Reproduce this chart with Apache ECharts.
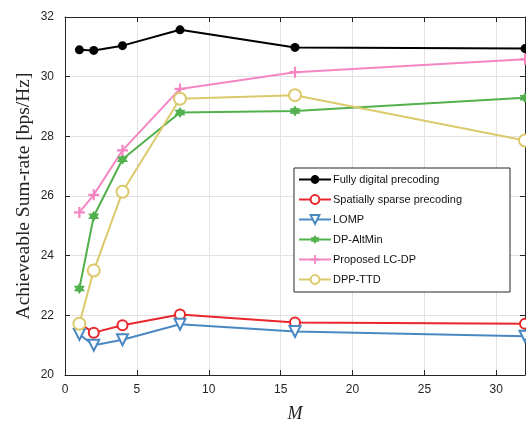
<!DOCTYPE html>
<html>
<head>
<meta charset="utf-8">
<script src="https://cdn.jsdelivr.net/npm/echarts@6/dist/echarts.min.js"></script>
<style>
html, body { margin: 0; padding: 0; background: #fff; }
#chart { width: 526px; height: 425px; }
</style>
</head>
<body>
<div id="chart"></div>
<script>
// number of RF chains M
var mValues = [1, 2, 4, 8, 16, 32];
var fullyDigital = [30.9, 30.88, 31.04, 31.57, 30.98, 30.94];
var sparsePrecoding = [21.72, 21.42, 21.67, 22.03, 21.76, 21.72];
var lomp = [21.36, 21.0, 21.18, 21.7, 21.46, 21.3];
var dpAltMin = [22.9, 25.32, 27.23, 28.8, 28.85, 29.29];
var lcdp = [25.45, 26.04, 27.53, 29.59, 30.15, 30.58];
var dppTtd = [21.72, 23.5, 26.14, 29.26, 29.38, 27.86];
var xTicks = { min: 0, max: 32, interval: 5 };
var yTicks = { min: 20, max: 32, interval: 2 };

function pairs(vals) {
	return mValues.map(function(m, i) {
		return [m, vals[i]];
	});
}

var axisColor = '#262626';
var starPath = 'path://M0,-10L8.66,5L-8.66,5Z M0,10L-8.66,-5L8.66,-5Z';
var plusPath = 'path://M-2,-10h4v8h8v4h-8v8h-4v-8h-8v-4h8z';

function lineSeries(name, vals, color, symbol, size, extra) {
	var s = {
		name: name,
		type: 'line',
		data: pairs(vals),
		symbol: symbol,
		symbolSize: size,
		showAllSymbol: true,
		lineStyle: { color: color, width: 2 },
		itemStyle: { color: color },
		emphasis: { disabled: true },
		z: 3
	};
	for (var k in extra) s[k] = extra[k];
	return s;
}

var option = {
	animation: false,
	backgroundColor: '#fff',
	grid: { left: 65, right: 1, top: 17, bottom: 50, containLabel: false, outerBoundsMode: 'none' },
	legend: {
		orient: 'vertical',
		left: 294,
		top: 168,
		padding: [6, 48, 7, 4],
		itemGap: 9,
		itemWidth: 32,
		itemHeight: 11,
		backgroundColor: '#fff',
		borderColor: '#262626',
		borderWidth: 1,
		borderRadius: 0,
		textStyle: { fontFamily: 'Liberation Sans', fontSize: 11, color: '#111', padding: [0, 0, 0, -3] },
		data: ['Fully digital precoding', 'Spatially sparse precoding', 'LOMP', 'DP-AltMin', 'Proposed LC-DP', 'DPP-TTD']
	},
	xAxis: [{
		type: 'value',
		min: xTicks.min,
		max: xTicks.max,
		interval: xTicks.interval,
		name: 'M',
		nameLocation: 'middle',
		nameGap: 30,
		nameMoveOverlap: false,
		nameTextStyle: { fontFamily: 'Liberation Serif', fontStyle: 'italic', fontSize: 18, color: '#222' },
		axisLine: { show: true, lineStyle: { color: axisColor, width: 1 } },
		axisTick: { show: true, inside: true, length: 5, lineStyle: { color: axisColor } },
		axisLabel: { showMaxLabel: false, margin: 9, fontFamily: 'Liberation Sans', fontSize: 12, color: axisColor },
		splitLine: { show: true, lineStyle: { color: '#e3e3e3', width: 1 } }
	}, {
		type: 'value',
		position: 'top',
		min: xTicks.min,
		max: xTicks.max,
		interval: xTicks.interval,
		axisLine: { show: true, onZero: false, lineStyle: { color: axisColor, width: 1 } },
		axisTick: { show: true, inside: true, length: 5, lineStyle: { color: axisColor } },
		axisLabel: { show: false },
		splitLine: { show: false }
	}],
	yAxis: [{
		type: 'value',
		min: yTicks.min,
		max: yTicks.max,
		interval: yTicks.interval,
		name: 'Achieveable Sum-rate [bps/Hz]',
		nameLocation: 'middle',
		nameGap: 31,
		nameMoveOverlap: false,
		nameTextStyle: { fontFamily: 'Liberation Serif', fontSize: 19.5, color: '#222' },
		axisLine: { show: true, lineStyle: { color: axisColor, width: 1 } },
		axisTick: { show: true, inside: true, length: 5, lineStyle: { color: axisColor } },
		axisLabel: { margin: 11, fontFamily: 'Liberation Sans', fontSize: 12, color: axisColor },
		splitLine: { show: true, lineStyle: { color: '#e3e3e3', width: 1 } }
	}, {
		type: 'value',
		position: 'right',
		min: yTicks.min,
		max: yTicks.max,
		interval: yTicks.interval,
		axisLine: { show: true, onZero: false, lineStyle: { color: axisColor, width: 1 } },
		axisTick: { show: true, inside: true, length: 5, lineStyle: { color: axisColor } },
		axisLabel: { show: false },
		splitLine: { show: false }
	}],
	series: [
		lineSeries('Fully digital precoding', fullyDigital, '#000000', 'circle', 9, {}),
		lineSeries('Spatially sparse precoding', sparsePrecoding, '#e8262b', 'emptyCircle', 10, {}),
		lineSeries('LOMP', lomp, '#4a88c2', 'emptyTriangle', 11, { symbolRotate: 180 }),
		lineSeries('DP-AltMin', dpAltMin, '#52b04d', starPath, 11, {}),
		lineSeries('Proposed LC-DP', lcdp, '#f586c2', plusPath, 11, {}),
		lineSeries('DPP-TTD', dppTtd, '#dcc96b', 'emptyCircle', 12, {})
	]
};

var chart = echarts.init(document.getElementById('chart'), null, { renderer: 'canvas' });
chart.setOption(option);
</script>
</body>
</html>
